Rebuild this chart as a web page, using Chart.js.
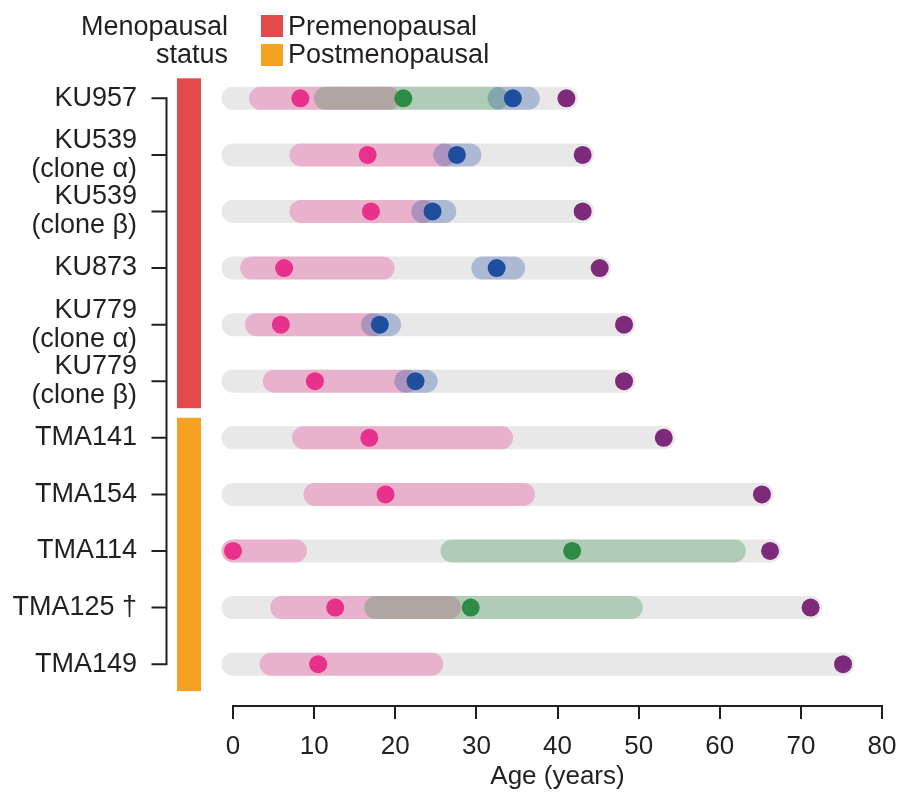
<!DOCTYPE html>
<html>
<head>
<meta charset="utf-8">
<script src="https://cdn.jsdelivr.net/npm/chart.js@4.4.1/dist/chart.umd.min.js"></script>
<style>
  html, body { margin: 0; padding: 0; background: #ffffff; }
  #wrap { width: 905px; height: 793px; }
</style>
</head>
<body>
<div id="wrap"><canvas id="chart" width="905" height="793"></canvas></div>
<script>
// Tumours / clones, top to bottom
const tumours = [
  ['KU957'],
  ['KU539', '(clone \u03b1)'],
  ['KU539', '(clone \u03b2)'],
  ['KU873'],
  ['KU779', '(clone \u03b1)'],
  ['KU779', '(clone \u03b2)'],
  ['TMA141'],
  ['TMA154'],
  ['TMA114'],
  ['TMA125 \u2020'],
  ['TMA149']
];
const menopausalStatus = ['pre', 'pre', 'pre', 'pre', 'pre', 'pre', 'post', 'post', 'post', 'post', 'post'];

// Age at sampling (years)
const ageAtSampling = [41.1, 43.1, 43.1, 45.2, 48.2, 48.2, 53.1, 65.2, 66.2, 71.2, 75.2];

// Pink interval and point estimate (years)
const pinkStart = [3.4, 8.4, 8.4, 2.3, 2.9, 5.1, 8.7, 10.1, 0.0, 6.0, 4.7];
const pinkEnd   = [19.2, 26.0, 23.5, 18.5, 17.3, 21.4, 33.1, 35.8, 7.7, 26.7, 24.5];
const pinkPoint = [8.3, 16.6, 17.0, 6.3, 5.9, 10.1, 16.8, 18.8, 0.0, 12.6, 10.5];

// Green interval and point estimate (years)
const greenStart = [11.4, null, null, null, null, null, null, null, 27.0, 17.6, null];
const greenEnd   = [32.5, null, null, null, null, null, null, null, 61.8, 49.1, null];
const greenPoint = [21.0, null, null, null, null, null, null, null, 41.8, 29.3, null];

// Blue interval and point estimate (years)
const blueStart = [32.8, 26.1, 23.4, 30.8, 17.2, 21.3, null, null, null, null, null];
const blueEnd   = [36.4, 29.2, 26.1, 34.6, 19.3, 23.8, null, null, null, null, null];
const bluePoint = [34.5, 27.6, 24.6, 32.5, 18.1, 22.5, null, null, null, null, null];

// x-axis ticks
const ageTicks = [0, 10, 20, 30, 40, 50, 60, 70, 80];

const FONT = "'Liberation Sans', Arial, Helvetica, sans-serif";
const INK = '#231f20';
const STATUS_COLORS = { pre: '#e34b4b', post: '#f4a21f' };
const STATUS_NAMES = { pre: 'Premenopausal', post: 'Postmenopausal' };

const BAR_WIDTH = 23;
const DOT_RADIUS = 9;

function rangeDatasets(starts, ends, color, order) {
  const sets = [];
  starts.forEach((s, i) => {
    if (s === null) return;
    sets.push({
      data: [{ x: s, y: i }, { x: ends[i], y: i }],
      borderColor: color,
      backgroundColor: color,
      borderWidth: BAR_WIDTH,
      borderCapStyle: 'round',
      pointRadius: 0,
      pointHoverRadius: 0,
      fill: false,
      tension: 0,
      clip: false,
      order: order
    });
  });
  return sets;
}

function pointDataset(values, color) {
  const pts = [];
  values.forEach((v, i) => { if (v !== null) pts.push({ x: v, y: i }); });
  return {
    data: pts,
    showLine: false,
    pointRadius: DOT_RADIUS,
    pointHoverRadius: DOT_RADIUS,
    pointBackgroundColor: color,
    pointBorderColor: color,
    pointBorderWidth: 0,
    clip: false,
    order: 0
  };
}

const zeros = ageAtSampling.map(() => 0);

const datasets = [].concat(
  rangeDatasets(zeros, ageAtSampling, '#e8e8e8', 4),
  rangeDatasets(pinkStart, pinkEnd, 'rgba(232,49,138,0.3)', 3),
  rangeDatasets(greenStart, greenEnd, 'rgba(46,139,69,0.3)', 2),
  rangeDatasets(blueStart, blueEnd, 'rgba(31,78,159,0.3)', 1),
  [
    pointDataset(pinkPoint, '#e8318a'),
    pointDataset(greenPoint, '#2e8b45'),
    pointDataset(bluePoint, '#1f4e9f'),
    pointDataset(ageAtSampling, '#7e2a7b')
  ]
);

// Row axis line, menopausal status strip and legend
const decorations = {
  id: 'decorations',
  afterDraw(chart) {
    const { ctx, chartArea, scales } = chart;
    const y = scales.y;
    ctx.save();

    // vertical row axis with ticks
    const axisX = chartArea.left - 66.5;
    ctx.strokeStyle = INK;
    ctx.lineWidth = 2;
    ctx.beginPath();
    ctx.moveTo(axisX, y.getPixelForValue(0) - 1);
    ctx.lineTo(axisX, y.getPixelForValue(tumours.length - 1) + 1);
    tumours.forEach((_, i) => {
      const py = y.getPixelForValue(i);
      ctx.moveTo(axisX, py);
      ctx.lineTo(axisX - 15, py);
    });
    ctx.stroke();

    // status strip, one block per run of equal status
    let runStart = 0;
    for (let i = 1; i <= menopausalStatus.length; i++) {
      if (i === menopausalStatus.length || menopausalStatus[i] !== menopausalStatus[runStart]) {
        const top = y.getPixelForValue(runStart) - 20;
        const bottom = y.getPixelForValue(i - 1) + 27;
        ctx.fillStyle = STATUS_COLORS[menopausalStatus[runStart]];
        ctx.fillRect(chartArea.left - 56, top, 24, bottom - top);
        runStart = i;
      }
    }

    // legend
    ctx.fillStyle = INK;
    ctx.font = '27px ' + FONT;
    ctx.textBaseline = 'alphabetic';
    ctx.textAlign = 'right';
    ctx.fillText('Menopausal', 228, 35);
    ctx.fillText('status', 228, 63);
    ctx.textAlign = 'left';
    ['pre', 'post'].forEach((k, j) => {
      ctx.fillStyle = STATUS_COLORS[k];
      ctx.fillRect(261, 15 + j * 29, 22, 22);
      ctx.fillStyle = INK;
      ctx.fillText(STATUS_NAMES[k], 288, 35 + j * 28);
    });

    ctx.restore();
  }
};

new Chart(document.getElementById('chart'), {
  type: 'line',
  data: { datasets },
  options: {
    responsive: false,
    animation: false,
    devicePixelRatio: 1,
    layout: { padding: { top: 70, right: 23, bottom: 0, left: 0 } },
    plugins: {
      legend: { display: false },
      tooltip: { enabled: false }
    },
    events: [],
    scales: {
      x: {
        type: 'linear',
        min: 0,
        max: 80,
        afterBuildTicks: (s) => { s.ticks = ageTicks.map(v => ({ value: v })); },
        afterFit: (s) => {
          s.height = 87;
          s.paddingLeft = 0;
          s.paddingRight = 0;
        },
        ticks: {
          font: { family: FONT, size: 26 },
          color: INK,
          padding: 12,
          maxRotation: 0
        },
        grid: {
          drawOnChartArea: false,
          drawTicks: true,
          tickLength: 13,
          color: INK,
          lineWidth: 2
        },
        border: { display: true, color: INK, width: 2 },
        title: {
          display: true,
          text: 'Age (years)',
          font: { family: FONT, size: 26 },
          color: INK,
          padding: 1
        }
      },
      y: {
        type: 'linear',
        reverse: true,
        min: -0.5,
        max: 10.74,
        afterBuildTicks: (s) => { s.ticks = tumours.map((_, i) => ({ value: i })); },
        afterFit: (s) => {
          s.width = 233;
          s.paddingTop = 0;
          s.paddingBottom = 0;
        },
        grid: { display: false, drawTicks: true, tickLength: 96 },
        border: { display: false },
        ticks: {
          autoSkip: false,
          callback: (v) => tumours[v],
          font: { family: FONT, size: 27, lineHeight: 1.07 },
          color: INK,
          padding: 0
        }
      }
    }
  },
  plugins: [decorations]
});
</script>
</body>
</html>
